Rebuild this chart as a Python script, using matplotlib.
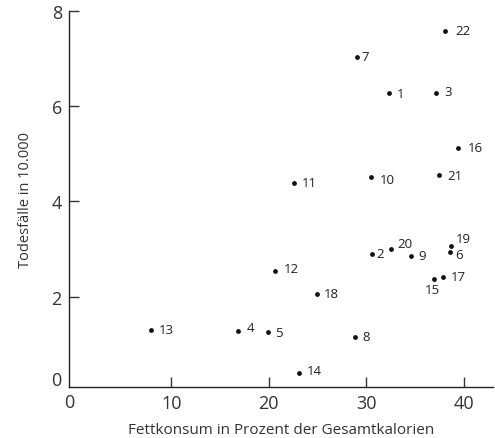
import matplotlib.pyplot as plt

plt.rcParams['font.family'] = ['Open Sans', 'DejaVu Sans']

# Laender-Nummern, Fettkonsum (% der Gesamtkalorien), Todesfaelle (in 10.000)
labels = ['1', '2', '3', '4', '5', '6', '7', '8', '9', '10', '11',
          '12', '13', '14', '15', '16', '17', '18', '19', '20', '21', '22']
fett = [32.3, 30.6, 37.2, 16.8, 19.9, 38.6, 29.1, 28.8, 34.6, 30.5, 22.6,
        20.6, 7.9, 23.1, 36.9, 39.4, 37.9, 24.9, 38.7, 32.5, 37.5, 38.1]
tod = [6.27, 2.90, 6.27, 1.27, 1.25, 2.93, 7.04, 1.16, 2.86, 4.51, 4.39,
       2.54, 1.30, 0.39, 2.36, 5.13, 2.42, 2.06, 3.07, 3.00, 4.55, 7.58]

# label offsets in points (dx, dy)
offsets = {'2': (3, 0), '6': (3.5, -1.5), '7': (3, 0), '15': (-1, -7),
           '19': (3.5, 5), '20': (4.5, 4), '4': (6.5, 3), '3': (6, 1.5),
           '10': (6, -2), '12': (6.5, 1.5), '14': (6, 2), '22': (7, 0),
           '16': (7, 0)}

fig = plt.figure(figsize=(4.95, 4.39), dpi=100)
ax = fig.add_axes([0.139, 0.116, 0.857, 0.857])

ax.scatter(fett, tod, s=6, color='#111111', zorder=3)
for lab, x, y in zip(labels, fett, tod):
    dx, dy = offsets.get(lab, (5.5, 0))
    ha = 'center' if lab == '15' else 'left'
    ax.annotate(lab, (x, y), xytext=(dx, dy), textcoords='offset points',
                ha=ha, va='center', fontsize=9.5, color='#222222')

ax.set_xlim(-0.5, 43)
ax.set_ylim(0.1, 8)
ax.set_xticks([10, 20, 30, 40])
ax.set_yticks([2, 4, 6, 8])
ax.tick_params(direction='in', length=7, width=1, labelsize=13,
               labelcolor='#333333', color='#333333')
ax.tick_params(axis='x', pad=5)
ax.tick_params(axis='y', pad=5)

# "0" labels at the origin corner
ax.text(0, -0.04, '0', transform=ax.transAxes, ha='center', va='center',
        fontsize=13, color='#333333')
ax.text(-0.018, 0.02, '0', transform=ax.transAxes, ha='right', va='center',
        fontsize=13, color='#333333')

for s in ['top', 'right']:
    ax.spines[s].set_visible(False)
for s in ['left', 'bottom']:
    ax.spines[s].set_color('#222222')
    ax.spines[s].set_linewidth(1)

ax.set_xlabel('Fettkonsum in Prozent der Gesamtkalorien', fontsize=11,
              color='#333333', labelpad=7)
ax.set_ylabel('Todesfälle in 10.000', fontsize=10.5, color='#333333',
              labelpad=13)

fig.savefig('out.png', dpi=100)
